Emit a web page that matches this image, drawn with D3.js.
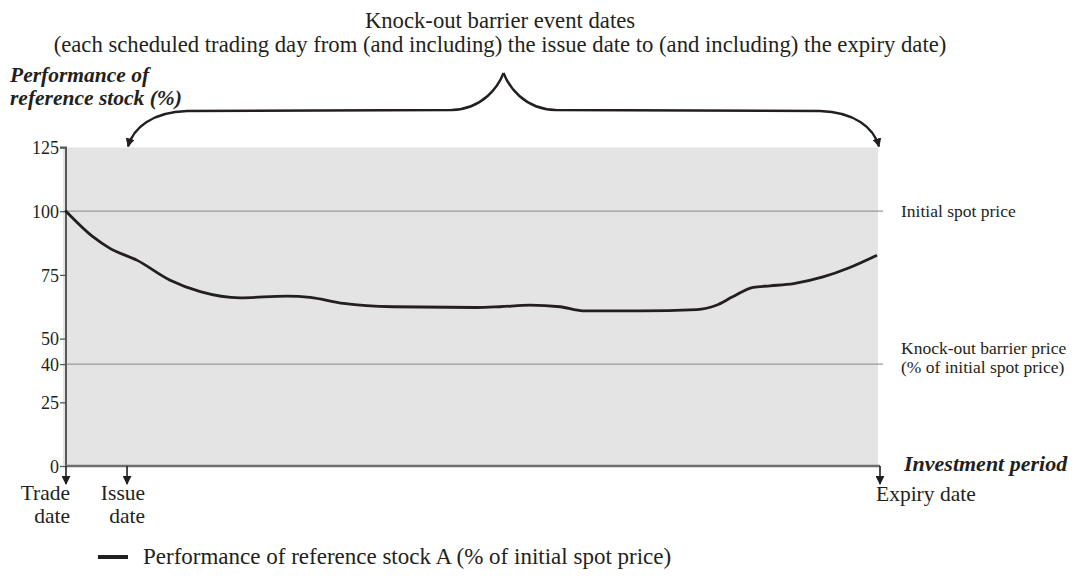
<!DOCTYPE html>
<html>
<head>
<meta charset="utf-8">
<script src="https://cdn.jsdelivr.net/npm/d3@7/dist/d3.min.js"></script>
<style>
  html, body { margin: 0; padding: 0; background: #fff; }
  svg { display: block; }
  text { font-family: "Liberation Serif", "Times New Roman", serif; fill: #231f20; }
</style>
</head>
<body>
<svg id="chart" width="1075" height="588"></svg>
<script>
// ---- data (time in % of investment period: 0 = trade date, 100 = expiry date) ----
const periodT = [0, 3.3, 5.4, 8.7, 12.8, 16.5, 21.4, 27.1, 30, 34.1, 40.2, 50.4, 53.3, 57, 60.7, 63.5, 70.5, 77.5, 79.9, 81.9, 84.4, 86.5, 89.4, 93, 96.3, 99.5];
const performance = [100, 90, 85.4, 80.8, 72.9, 68.4, 66, 66.7, 66.2, 63.8, 62.5, 62.2, 62.5, 63.1, 62.5, 60.9, 60.9, 61.4, 63.1, 66.4, 70.1, 70.7, 71.6, 74.2, 77.9, 82.5];
const yTicks = [0, 25, 40, 50, 75, 100, 125];
const refLevels = [100, 40];
const refLabels = [["Initial spot price"], ["Knock-out barrier price", "(% of initial spot price)"]];
const dateMarks = [0, 7.5, 100];
const dateLabels = [["Trade", "date"], ["Issue", "date"], ["Expiry date"]];
const titleLines = ["Knock-out barrier event dates",
  "(each scheduled trading day from (and including) the issue date to (and including) the expiry date)"];
const yTitle = ["Performance of", "reference stock (%)"];
const xTitle = "Investment period";
const legendLabel = "Performance of reference stock A (% of initial spot price)";

const svg = d3.select("#chart");
const ink = "#231f20";
const serif = "Liberation Serif, Times New Roman, serif";
const x = d3.scaleLinear().domain([0, 100]).range([66, 880]);
const y = d3.scaleLinear().domain([0, 125]).range([466, 147.5]);

// markers
const defs = svg.append("defs");
defs.append("marker").attr("id", "arrow").attr("viewBox", "0 0 10 10")
  .attr("refX", 9).attr("refY", 5).attr("markerWidth", 9).attr("markerHeight", 9)
  .attr("markerUnits", "userSpaceOnUse").attr("orient", "auto")
  .append("path").attr("d", "M0,0 L10,5 L0,10 Z").attr("fill", ink);

// plot background
svg.append("rect")
  .attr("x", x(0) - 3).attr("y", y(125))
  .attr("width", x(100) - x(0) + 1).attr("height", y(0) - y(125))
  .attr("fill", "#e4e4e4");

// reference lines
svg.selectAll("line.ref").data(refLevels).join("line")
  .attr("x1", x(0)).attr("x2", x(100) + 3)
  .attr("y1", d => y(d)).attr("y2", d => y(d))
  .attr("stroke", "#9a9a9a").attr("stroke-width", 1.3);

// right labels
refLevels.forEach((lv, i) => {
  const t = svg.append("text").attr("font-size", 17.5);
  refLabels[i].forEach((s, j) => {
    t.append("tspan").attr("x", 901)
      .attr("y", y(lv) + (refLabels[i].length > 1 ? -10 + j * 19 : 6))
      .text(s);
  });
});

// y axis
const yAxis = d3.axisLeft(y).tickValues(yTicks).tickSize(6).tickPadding(1).tickFormat(d3.format("d"));
const gy = svg.append("g").attr("transform", `translate(${x(0)},0)`).call(yAxis);
gy.attr("font-family", serif).attr("font-size", 18);
gy.select(".domain").attr("stroke", "#58595b").attr("stroke-width", 2).attr("d", `M-6,${y(125)}H0V${y(0)}`);
gy.selectAll(".tick line").attr("stroke", "#58595b").attr("stroke-width", 1.3);
gy.selectAll(".tick text").attr("fill", ink).attr("dy", "0.35em");

// x axis line
svg.append("line").attr("x1", x(0) - 1).attr("x2", x(100))
  .attr("y1", y(0)).attr("y2", y(0))
  .attr("stroke", "#6d6e70").attr("stroke-width", 2.5);

// date arrows
svg.selectAll("line.date").data(dateMarks).join("line")
  .attr("x1", d => x(d)).attr("x2", d => x(d))
  .attr("y1", y(0)).attr("y2", y(0) + 18)
  .attr("stroke", ink).attr("stroke-width", 1.6)
  .attr("marker-end", "url(#arrow)");

// date labels
dateLabels.forEach((lines, i) => {
  const t = svg.append("text").attr("font-size", 21.5)
    .attr("text-anchor", i === 2 ? "start" : "end");
  const ax = i === 0 ? x(dateMarks[i]) + 4 : (i === 1 ? x(dateMarks[i]) + 18 : x(dateMarks[i]) - 4);
  lines.forEach((s, j) => {
    t.append("tspan").attr("x", ax).attr("y", (i === 2 ? 501 : 500) + j * 23).text(s);
  });
});

// x title
svg.append("text").attr("x", 904).attr("y", 471).attr("font-size", 22)
  .attr("font-weight", "bold").attr("font-style", "italic").text(xTitle);

// y title
const yt = svg.append("text").attr("font-size", 21.5).attr("font-weight", "bold").attr("font-style", "italic");
yTitle.forEach((s, j) => yt.append("tspan").attr("x", 10).attr("y", 82 + j * 23).text(s));

// performance line
const line = d3.line().x((d, i) => x(periodT[i])).y(d => y(d)).curve(d3.curveMonotoneX);
svg.append("path").datum(performance)
  .attr("d", line).attr("fill", "none")
  .attr("stroke", ink).attr("stroke-width", 2.8).attr("stroke-linecap", "round");

// title
const tt = svg.append("text").attr("font-size", 22.7).attr("text-anchor", "middle");
titleLines.forEach((s, j) => tt.append("tspan").attr("x", 500).attr("y", 28 + j * 24).text(s));

// brace from issue date to expiry date
const xL = x(dateMarks[1]), xR = x(dateMarks[2]);
const xm = (xL + xR) / 2, topY = y(125) - 1, hY = 110, peakY = 73;
const leftPath = d3.path();
leftPath.moveTo(xm, peakY);
leftPath.bezierCurveTo(xm - 5, hY - 24, xm - 20, hY - 1, xm - 52, hY);
leftPath.lineTo(xL + 60, hY + 1);
leftPath.bezierCurveTo(xL + 25, hY + 2, xL + 6, hY + 18, xL + 1, topY);
const rightPath = d3.path();
rightPath.moveTo(xm, peakY);
rightPath.bezierCurveTo(xm + 5, hY - 24, xm + 20, hY - 1, xm + 52, hY);
rightPath.lineTo(xR - 60, hY + 1);
rightPath.bezierCurveTo(xR - 25, hY + 2, xR - 6, hY + 18, xR - 1, topY);
[leftPath, rightPath].forEach(p => {
  svg.append("path").attr("d", p.toString()).attr("fill", "none")
    .attr("stroke", ink).attr("stroke-width", 2.4)
    .attr("marker-end", "url(#arrow)");
});

// legend
svg.append("line").attr("x1", 98).attr("x2", 128).attr("y1", 557).attr("y2", 557)
  .attr("stroke", ink).attr("stroke-width", 4);
svg.append("text").attr("x", 143).attr("y", 564).attr("font-size", 23).text(legendLabel);
</script>
</body>
</html>
